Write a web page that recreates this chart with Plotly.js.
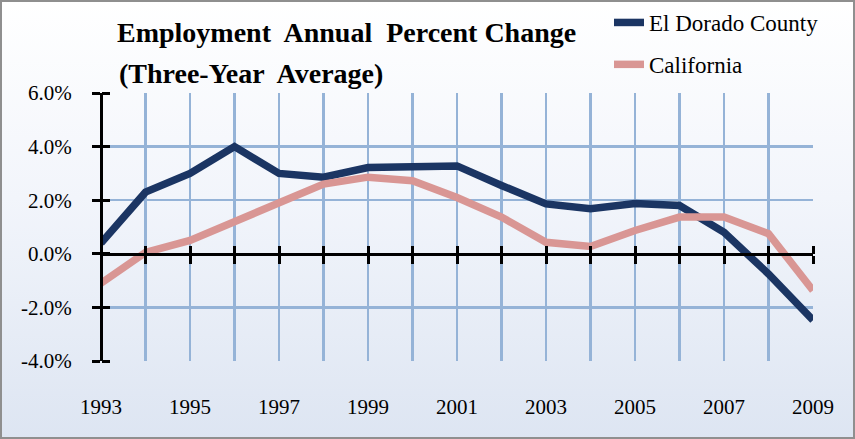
<!DOCTYPE html>
<html>
<head>
<meta charset="utf-8">
<script src="https://cdn.plot.ly/plotly-3.0.1.min.js"></script>
<style>
  html, body { margin: 0; padding: 0; }
  #wrap { position: relative; width: 855px; height: 439px;
          background: linear-gradient(to bottom, #ffffff 0%, #f2f5fb 45%, #dde5f2 100%); }
  #chart { position: absolute; left: 0; top: 0; width: 855px; height: 439px; }
  #frame { position: absolute; left: 0; top: 0; width: 855px; height: 439px;
           box-sizing: border-box; border: 2px solid #8f8f8f; pointer-events: none; }
</style>
</head>
<body>
<div id="wrap"><div id="chart"></div><div id="frame"></div></div>
<script>
// ---- data ----
const years = [1993, 1994, 1995, 1996, 1997, 1998, 1999, 2000, 2001,
               2002, 2003, 2004, 2005, 2006, 2007, 2008, 2009];
const elDorado = [0.4, 2.3, 3.0, 4.0, 3.0, 2.86, 3.22, 3.28, 3.28,
                  2.55, 1.86, 1.68, 1.88, 1.8, 0.8, -0.75, -2.48];
const california = [-1.1, 0.05, 0.5, 1.18, 1.93, 2.6, 2.86, 2.73, 2.1,
                    1.37, 0.43, 0.27, 0.87, 1.37, 1.37, 0.75, -1.37];
const xLabelYears = [1993, 1995, 1997, 1999, 2001, 2003, 2005, 2007, 2009];
const xLabelText = ['1993', '1995', '1997', '1999', '2001', '2003', '2005', '2007', '2009'];
const yTickVals = [-4, -2, 0, 2, 4, 6];
const yTickText = ['-4.0%', '-2.0%', '0.0%', '2.0%', '4.0%', '6.0%'];
const seriesNames = ['El Dorado County', 'California'];
const titleLine1 = 'Employment  Annual  Percent Change';
const titleLine2 = '(Three-Year  Average)';

const xRange = [1993, 2009];
const yRange = [-4, 6];
const zeroPos = (0 - yRange[0]) / (yRange[1] - yRange[0]);

const serif = 'Liberation Serif, Times New Roman, serif';
const gridCol = '#95b3d7';

const traces = [
  { x: [], y: [], xaxis: 'x', yaxis: 'y', showlegend: false, hoverinfo: 'skip', type: 'scatter' },
  { x: [], y: [], xaxis: 'x2', yaxis: 'y2', showlegend: false, hoverinfo: 'skip', type: 'scatter' },
  { x: years, y: elDorado, name: seriesNames[0], xaxis: 'x3', yaxis: 'y3', type: 'scatter',
    mode: 'lines', line: { color: '#1b3563', width: 7.5 }, legendgroup: 'a' },
  { x: years, y: california, name: seriesNames[1], xaxis: 'x3', yaxis: 'y3', type: 'scatter',
    mode: 'lines', line: { color: '#d99694', width: 7.5 }, legendgroup: 'b' }
];

const tickAxisX = (side) => ({
  overlaying: 'x', anchor: 'free', position: zeroPos, side: side, range: xRange,
  tickmode: 'array', tickvals: years, ticks: 'outside', ticklen: 8, tickwidth: 3, tickcolor: '#000',
  showticklabels: false, showgrid: false, zeroline: false, fixedrange: true
});
const tickAxisY = (side) => ({
  overlaying: 'y', anchor: 'free', position: 0, side: side, range: yRange,
  tickmode: 'array', tickvals: yTickVals, ticks: 'outside', ticklen: 8, tickwidth: 3, tickcolor: '#000',
  showticklabels: false, showgrid: false, zeroline: false, fixedrange: true
});

const layout = {
  width: 855, height: 439,
  margin: { l: 101, r: 42, t: 93, b: 78, autoexpand: false },
  paper_bgcolor: 'rgba(0,0,0,0)', plot_bgcolor: 'rgba(0,0,0,0)',
  font: { family: serif, color: '#000', size: 21 },
  title: { text: '<b>' + titleLine1 + '</b>', x: 117 / 855, xanchor: 'left',
           y: 1 - 32 / 439, yanchor: 'middle', font: { family: serif, size: 28, color: '#000' } },
  annotations: [{ text: '<b>' + titleLine2 + '</b>', xref: 'paper', yref: 'paper',
                  x: (117 - 101) / 712, xanchor: 'left', y: 1 + (93 - 73) / 268, yanchor: 'middle',
                  showarrow: false, font: { family: serif, size: 28, color: '#000' } }],
  showlegend: true,
  legend: { x: (609 - 101) / 712, xanchor: 'left', y: 1 + (93 - 1) / 268, yanchor: 'top',
            bgcolor: 'rgba(0,0,0,0)', font: { family: serif, size: 23, color: '#000' },
            traceorder: 'grouped', tracegroupgap: 9 },
  xaxis: { range: xRange, tickmode: 'array', tickvals: xLabelYears, ticktext: xLabelText,
           showgrid: true, gridcolor: gridCol, gridwidth: 2.5,
           minor: { dtick: 1, tick0: 1993, showgrid: true, gridcolor: gridCol, gridwidth: 2.5 },
           ticks: 'outside', ticklen: 27, tickcolor: 'rgba(0,0,0,0)', showline: false,
           zeroline: false, fixedrange: true, tickfont: { family: serif, size: 21 } },
  yaxis: { range: yRange, tickmode: 'array', tickvals: yTickVals, ticktext: yTickText,
           showgrid: true, gridcolor: gridCol, gridwidth: 2.5,
           ticks: 'outside', ticklen: 24, tickcolor: 'rgba(0,0,0,0)', showline: false,
           zeroline: false, fixedrange: true, tickfont: { family: serif, size: 21 } },
  xaxis2: Object.assign(tickAxisX('bottom'), { showline: true, linecolor: '#000', linewidth: 3 }),
  yaxis2: Object.assign(tickAxisY('left'), { showline: true, linecolor: '#000', linewidth: 3 }),
  xaxis3: tickAxisX('top'),
  yaxis3: tickAxisY('right')
};

Plotly.newPlot('chart', traces, layout, { displayModeBar: false, staticPlot: true });
</script>
</body>
</html>
